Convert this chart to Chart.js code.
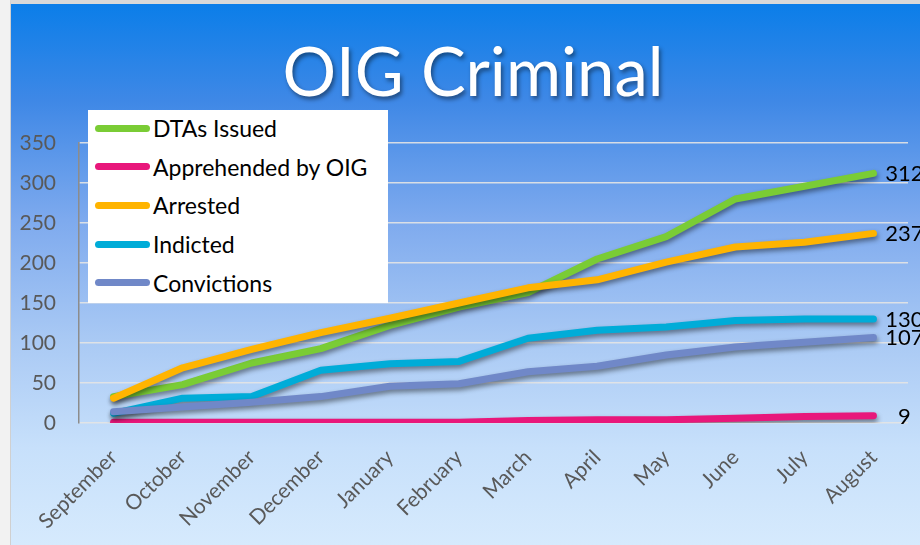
<!DOCTYPE html>
<html>
<head>
<meta charset="utf-8">
<script src="https://cdn.jsdelivr.net/npm/chart.js@4.4.1/dist/chart.umd.min.js"></script>
<style>
  html, body { margin: 0; padding: 0; background: #f2f2f2; }
  #wrap {
    position: absolute; left: 10px; top: 0; width: 910px; height: 541px;
    border-top: 4px solid #d9d9d9; border-left: 1px solid #d0d0d0;
    background: linear-gradient(to bottom, #0b7ee9 0%, #3f88e6 18%, #7eaaee 40%, #a9c9f4 62%, #c7e0fb 82%, #d6eafd 100%);
    overflow: hidden;
  }
  #chart { position: absolute; left: 0; top: 0; }
  #title {
    position: absolute; left: 262px; top: 26px; width: 400px; text-align: center;
    font-family: Lato, sans-serif; font-size: 67px; color: #fff; white-space: nowrap;
    text-shadow: 2px 3px 4px rgba(0,0,0,0.45);
  }
  #legend {
    position: absolute; left: 77px; top: 106px; width: 300px; height: 193px;
    background: #fff; font-family: Lato, sans-serif; font-size: 23px; color: #000;
  }
  .row { position: absolute; left: 0; height: 30px; display: flex; align-items: center; white-space: nowrap; }
  .swatch { width: 55px; height: 7px; border-radius: 4px; margin-left: 7px; margin-right: 3px; }
</style>
</head>
<body>
<div id="wrap">
  <canvas id="chart" width="910" height="541"></canvas>
  <div id="title">OIG Criminal</div>
  <div id="legend"></div>
</div>
<script>
var months = ['September', 'October', 'November', 'December', 'January', 'February',
              'March', 'April', 'May', 'June', 'July', 'August'];
var seriesNames = ['DTAs Issued', 'Apprehended by OIG', 'Arrested', 'Indicted', 'Convictions'];
var seriesColors = ['#7acc35', '#e8177b', '#ffb400', '#00acd8', '#7088c8'];

var dtasIssued  = [33, 48, 75, 93, 122, 145, 163, 205, 233, 280, 296, 312];
var apprehended = [1, 1, 1, 1, 1, 1, 3, 4, 4, 6, 8, 9];
var arrested    = [31, 69, 92, 113, 131, 150, 169, 179, 201, 220, 226, 237];
var indicted    = [12, 31, 33, 66, 74, 77, 106, 116, 120, 128, 130, 130];
var convictions = [14, 20, 26, 33, 46, 49, 64, 71, 85, 95, 101, 107];

var yTicks = [0, 50, 100, 150, 200, 250, 300, 350];

var seriesData = [dtasIssued, apprehended, arrested, indicted, convictions];

// legend box (html, sits over the plot like the original)
var legend = document.getElementById('legend');
seriesNames.forEach(function (name, i) {
    var row = document.createElement('div');
    row.className = 'row';
    row.style.top = (3 + i * 38.7) + 'px';
    row.innerHTML = '<span class="swatch" style="background:' + seriesColors[i] + '"></span>' + name;
    legend.appendChild(row);
});

// drop shadow under each line
var lineShadow = {
    id: 'lineShadow',
    beforeDatasetDraw: function (chart) {
        var ctx = chart.ctx;
        ctx.save();
        ctx.shadowColor = 'rgba(0,0,0,0.45)';
        ctx.shadowBlur = 5;
        ctx.shadowOffsetX = 1;
        ctx.shadowOffsetY = 3;
    },
    afterDatasetDraw: function (chart) {
        chart.ctx.restore();
    }
};

// value labels at the last point of each line
var endLabels = {
    id: 'endLabels',
    afterDatasetsDraw: function (chart) {
        var ctx = chart.ctx;
        ctx.save();
        ctx.font = '22px Lato, sans-serif';
        ctx.fillStyle = '#000';
        ctx.textAlign = 'center';
        ctx.textBaseline = 'middle';
        chart.data.datasets.forEach(function (ds, i) {
            var meta = chart.getDatasetMeta(i);
            var pt = meta.data[meta.data.length - 1];
            ctx.fillText(ds.data[ds.data.length - 1], pt.x + 31, pt.y + 1);
        });
        ctx.restore();
    }
};

var ctx = document.getElementById('chart').getContext('2d');
new Chart(ctx, {
    type: 'line',
    data: {
        labels: months,
        datasets: seriesNames.map(function (name, i) {
            return {
                label: name,
                data: seriesData[i],
                borderColor: seriesColors[i],
                backgroundColor: seriesColors[i],
                borderWidth: 7,
                borderCapStyle: 'round',
                borderJoinStyle: 'round',
                pointRadius: 0,
                fill: false,
                tension: 0,
                order: seriesNames.length - i
            };
        })
    },
    options: {
        responsive: false,
        animation: false,
        layout: { padding: { left: 0, right: 13, top: 139, bottom: 0 } },
        plugins: {
            legend: { display: false },
            tooltip: { enabled: false }
        },
        scales: {
            x: {
                offset: true,
                grid: { display: false },
                border: { display: false },
                ticks: {
                    color: '#595959',
                    font: { family: 'Lato, sans-serif', size: 21 },
                    minRotation: 45,
                    maxRotation: 45,
                    padding: 14
                },
                afterFit: function (scale) { scale.height = 122; }
            },
            y: {
                min: 0,
                max: 350,
                afterBuildTicks: function (scale) {
                    scale.ticks = yTicks.map(function (v) { return { value: v }; });
                },
                grid: { color: 'rgba(228,228,228,0.9)', lineWidth: 1.5, drawTicks: false },
                border: { display: true, color: '#8c8c8c', width: 1.5 },
                ticks: {
                    color: '#595959',
                    font: { family: 'Lato, sans-serif', size: 21 },
                    padding: 23
                },
                afterFit: function (scale) { scale.width = 68; }
            }
        }
    },
    plugins: [lineShadow, endLabels]
});
</script>
</body>
</html>
